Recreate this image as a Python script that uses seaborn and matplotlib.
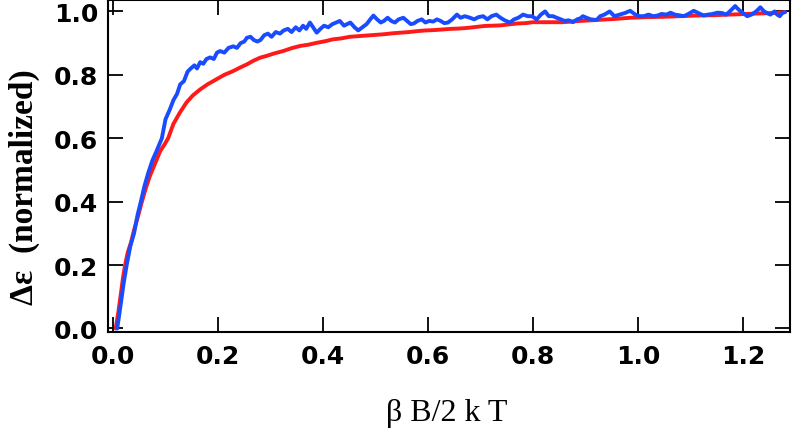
import matplotlib
matplotlib.use("Agg")
import matplotlib.pyplot as plt
import seaborn as sns
import pandas as pd

# blue curve
blue_x = [0.008, 0.015, 0.020, 0.026, 0.033, 0.040, 0.047, 0.053, 0.060, 0.067, 0.075, 0.083,
          0.093, 0.100, 0.108, 0.115, 0.122, 0.128, 0.135, 0.142, 0.148, 0.155, 0.160, 0.166,
          0.172, 0.178, 0.185, 0.192, 0.198, 0.204, 0.212, 0.220, 0.229, 0.236, 0.243, 0.250,
          0.255, 0.262, 0.268, 0.275, 0.281, 0.288, 0.295, 0.302, 0.310, 0.318, 0.325, 0.333,
          0.340, 0.348, 0.355, 0.362, 0.368, 0.375, 0.381, 0.388, 0.395, 0.402, 0.410, 0.418,
          0.425, 0.432, 0.440, 0.446, 0.452, 0.460, 0.467, 0.475, 0.483, 0.490, 0.496, 0.503,
          0.510, 0.516, 0.523, 0.530, 0.537, 0.544, 0.553, 0.560, 0.567, 0.573, 0.580, 0.588,
          0.595, 0.602, 0.610, 0.617, 0.624, 0.631, 0.638, 0.646, 0.655, 0.662, 0.670, 0.680,
          0.688, 0.696, 0.705, 0.713, 0.721, 0.730, 0.738, 0.746, 0.756, 0.764, 0.772, 0.781,
          0.790, 0.798, 0.807, 0.815, 0.823, 0.830, 0.838, 0.845, 0.853, 0.860, 0.868, 0.876,
          0.884, 0.890, 0.895, 0.902, 0.910, 0.921, 0.928, 0.936, 0.946, 0.955, 0.965, 0.975,
          0.985, 0.995, 1.003, 1.011, 1.020, 1.029, 1.037, 1.045, 1.054, 1.062, 1.070, 1.078,
          1.087, 1.096, 1.106, 1.115, 1.125, 1.133, 1.142, 1.151, 1.160, 1.168, 1.176, 1.185,
          1.192, 1.200, 1.208, 1.216, 1.225, 1.233, 1.240, 1.246, 1.252, 1.260, 1.265, 1.270,
          1.275, 1.280]
blue_y = [0.00, 0.08, 0.14, 0.20, 0.26, 0.30, 0.36, 0.40, 0.45, 0.49, 0.53, 0.56,
          0.60, 0.66, 0.69, 0.72, 0.74, 0.77, 0.78, 0.81, 0.82, 0.83, 0.82, 0.84,
          0.835, 0.85, 0.855, 0.85, 0.87, 0.875, 0.87, 0.885, 0.89, 0.885, 0.90, 0.905,
          0.917, 0.92, 0.91, 0.905, 0.91, 0.925, 0.93, 0.92, 0.935, 0.93, 0.94, 0.945,
          0.935, 0.95, 0.94, 0.955, 0.945, 0.965, 0.95, 0.933, 0.945, 0.955, 0.95, 0.96,
          0.965, 0.97, 0.955, 0.96, 0.965, 0.95, 0.94, 0.95, 0.96, 0.975, 0.987, 0.975,
          0.965, 0.97, 0.98, 0.97, 0.965, 0.975, 0.98, 0.97, 0.96, 0.962, 0.97, 0.975,
          0.965, 0.97, 0.968, 0.975, 0.97, 0.963, 0.965, 0.975, 0.99, 0.98, 0.985, 0.98,
          0.975, 0.982, 0.985, 0.975, 0.985, 0.99, 0.98, 0.972, 0.965, 0.975, 0.98, 0.99,
          0.985, 0.985, 0.975, 0.99, 1.00, 0.985, 0.985, 0.98, 0.975, 0.97, 0.972, 0.966,
          0.975, 0.978, 0.985, 0.98, 0.975, 0.973, 0.985, 0.99, 1.00, 0.985, 0.99, 0.995,
          1.002, 0.99, 0.985, 0.985, 0.99, 0.985, 0.987, 0.992, 0.99, 0.996, 0.99, 0.988,
          0.985, 0.992, 1.002, 0.995, 0.987, 0.99, 0.992, 0.996, 0.995, 0.99, 1.002, 1.017,
          1.005, 0.995, 0.985, 0.99, 1.00, 1.013, 1.00, 0.995, 0.99, 1.00, 0.99, 0.985,
          0.995, 0.998]

# red curve
red_x = [0.005, 0.010, 0.015, 0.019, 0.023, 0.028, 0.034, 0.040, 0.047, 0.055, 0.062, 0.070,
         0.080, 0.090, 0.098, 0.105, 0.115, 0.127, 0.140, 0.152, 0.166, 0.180, 0.197, 0.212,
         0.229, 0.242, 0.255, 0.268, 0.280, 0.293, 0.308, 0.324, 0.340, 0.356, 0.372, 0.388,
         0.404, 0.419, 0.435, 0.451, 0.467, 0.483, 0.500, 0.516, 0.532, 0.548, 0.564, 0.580,
         0.595, 0.610, 0.627, 0.643, 0.659, 0.675, 0.691, 0.707, 0.722, 0.738, 0.754, 0.770,
         0.785, 0.800, 0.825, 0.857, 0.890, 0.921, 0.953, 0.985, 1.016, 1.048, 1.080, 1.112,
         1.143, 1.175, 1.206, 1.238, 1.260, 1.280]
red_y = [0.00, 0.05, 0.11, 0.16, 0.20, 0.24, 0.27, 0.31, 0.35, 0.40, 0.44, 0.48,
         0.52, 0.56, 0.58, 0.60, 0.645, 0.68, 0.713, 0.735, 0.754, 0.77, 0.786, 0.80,
         0.812, 0.823, 0.833, 0.845, 0.854, 0.86, 0.868, 0.875, 0.884, 0.891, 0.895, 0.901,
         0.906, 0.912, 0.915, 0.92, 0.922, 0.924, 0.926, 0.928, 0.931, 0.933, 0.935, 0.938,
         0.94, 0.941, 0.943, 0.945, 0.946, 0.948, 0.951, 0.954, 0.955, 0.956, 0.959, 0.962,
         0.963, 0.966, 0.966, 0.966, 0.97, 0.973, 0.976, 0.98, 0.982, 0.983, 0.985, 0.987,
         0.988, 0.99, 0.992, 0.994, 0.995, 0.998]

red = pd.DataFrame({"x": red_x, "y": red_y})
blue = pd.DataFrame({"x": blue_x, "y": blue_y})

sns.set_style("ticks")
plt.rcParams["font.family"] = ["DejaVu Sans"]

fig = plt.figure(figsize=(7.92, 4.39), dpi=100)
ax = fig.add_axes([0.1364, 0.2415, 0.8611, 0.7562])

sns.lineplot(data=red, x="x", y="y", sort=False, estimator=None, color="#ff1a1a", lw=2.8, ax=ax)
sns.lineplot(data=blue, x="x", y="y", sort=False, estimator=None, color="#1a4cff", lw=2.8, ax=ax)

ax.set_xlim(-0.0095, 1.2895)
ax.set_ylim(-0.011, 1.036)
ax.set_xticks([0.0, 0.2, 0.4, 0.6, 0.8, 1.0, 1.2])
ax.set_yticks([0.0, 0.2, 0.4, 0.6, 0.8, 1.0])
ax.set_xticklabels(["0.0", "0.2", "0.4", "0.6", "0.8", "1.0", "1.2"])
ax.set_yticklabels(["0.0", "0.2", "0.4", "0.6", "0.8", "1.0"])
ax.tick_params(direction="in", length=11, width=1.3, top=True, right=True,
               labelsize=18, colors="black")
ax.tick_params(axis="x", pad=9)
ax.tick_params(axis="y", pad=7)
for lab in ax.get_xticklabels() + ax.get_yticklabels():
    lab.set_fontweight("bold")
for s in ax.spines.values():
    s.set_linewidth(1.5)
    s.set_color("black")

ax.set_xlabel("β B/2 k T", fontfamily="Liberation Serif", fontsize=23, color="black")
ax.set_ylabel("Δε  (normalized)", fontfamily="Liberation Serif", fontweight="bold",
              fontsize=24, color="black")
ax.xaxis.set_label_coords(0.497, -0.2)
ax.yaxis.set_label_coords(-0.1, 0.44)

fig.savefig("out.png", dpi=100)
